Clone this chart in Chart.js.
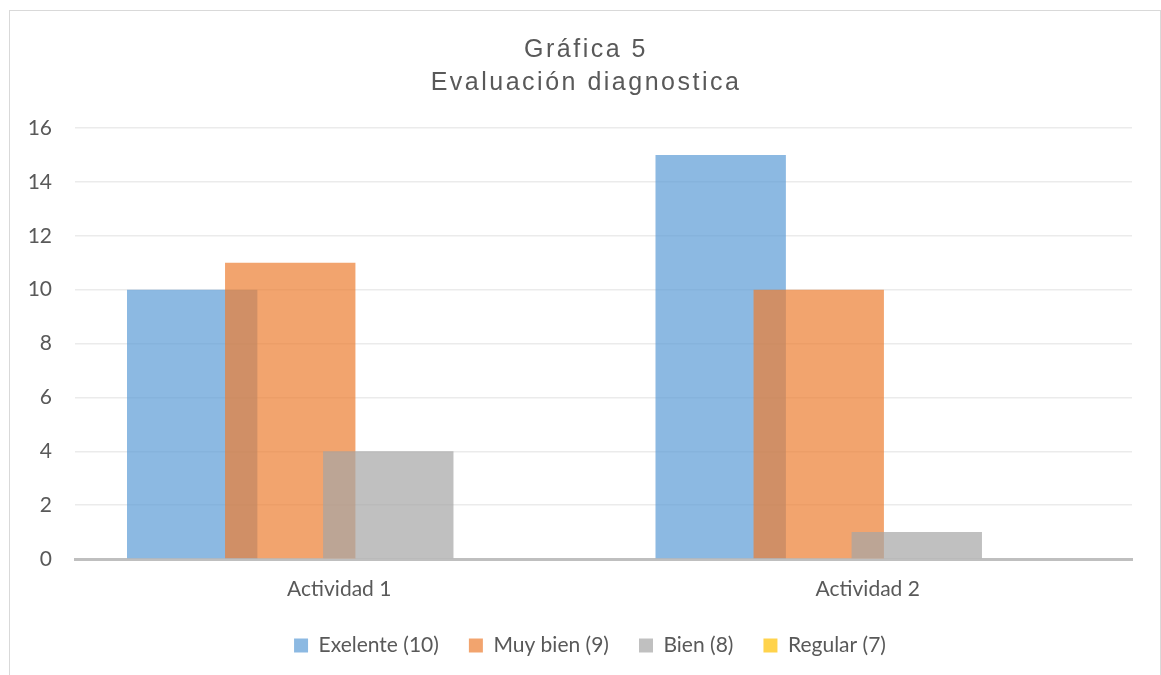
<!DOCTYPE html>
<html>
<head>
<meta charset="utf-8">
<script src="https://cdn.jsdelivr.net/npm/chart.js@4"></script>
<style>
  html, body { margin: 0; padding: 0; background: #fff; }
  #frame { position: absolute; left: 9px; top: 10px; width: 1150px; height: 700px; border: 1px solid #d9d9d9; }
  #wrap { position: absolute; left: 0; top: 0; width: 1161px; height: 675px; }
</style>
</head>
<body>
<div id="frame"></div>
<div id="wrap"><canvas id="evalChart"></canvas></div>
<script>
const titleLines = ['Gráfica 5', 'Evaluación diagnostica'];
const activities = ['Actividad 1', 'Actividad 2'];
const exelente = [10, 15];
const muyBien = [11, 10];
const bien = [4, 1];
const regular = [0, 0];

const fontFamily = 'Lato, "Liberation Sans", sans-serif';
const textColor = '#595959';

// draw datasets in index order so later series sit on top (like Excel)
const drawInOrder = {
    id: 'drawInOrder',
    beforeDatasetsDraw(chart) {
        chart.data.datasets.forEach((ds, i) => {
            const meta = chart.getDatasetMeta(i);
            if (!meta.hidden) meta.controller.draw();
        });
        return false;
    }
};

// centre the legend under the plot area rather than the whole canvas
const legendUnderPlot = {
    id: 'legendUnderPlot',
    afterLayout(chart) {
        const lg = chart.legend;
        lg.left = 48;
        lg.right = chart.chartArea.right;
        lg.width = lg.right - lg.left;
    }
};

const spacedTitle = {
    id: 'spacedTitle',
    afterDraw(chart) {
        const ctx = chart.ctx;
        ctx.save();
        ctx.font = '25px "Liberation Sans", Arial, sans-serif';
        ctx.fillStyle = textColor;
        ctx.textAlign = 'center';
        ctx.textBaseline = 'alphabetic';
        ctx.letterSpacing = '2.5px';
        titleLines.forEach((t, i) => ctx.fillText(t, 586, 57 + i * 33));
        ctx.restore();
    }
};

const ctx = document.getElementById('evalChart').getContext('2d');
const evalChart = new Chart(ctx, {
    type: 'bar',
    data: {
        labels: activities,
        datasets: [
            { label: 'Exelente (10)', data: exelente, backgroundColor: 'rgba(91,155,213,0.7)' },
            { label: 'Muy bien (9)', data: muyBien, backgroundColor: 'rgba(237,125,49,0.7)' },
            { label: 'Bien (8)', data: bien, backgroundColor: 'rgba(165,165,165,0.7)' },
            { label: 'Regular (7)', data: regular, backgroundColor: 'rgba(255,192,0,0.7)' }
        ]
    },
    options: {
        responsive: true,
        maintainAspectRatio: false,
        animation: false,
        categoryPercentage: 0.742,
        barPercentage: 1.33,
        layout: { padding: { top: 128, left: 0, right: 29, bottom: 9 } },
        plugins: {
            title: { display: false },
            tooltip: { enabled: false },
            legend: {
                position: 'bottom',
                labels: {
                    boxWidth: 14,
                    boxHeight: 14,
                    padding: 30,
                    color: textColor,
                    font: { family: fontFamily, size: 21 }
                }
            }
        },
        scales: {
            x: {
                grid: { display: false, drawTicks: false },
                border: { color: '#bfbfbf', width: 3 },
                ticks: { color: textColor, padding: 18, font: { family: fontFamily, size: 21 } },
                afterFit(scale) { scale.height = 46; }
            },
            y: {
                min: 0,
                max: 16,
                ticks: { stepSize: 2, color: textColor, padding: 23, font: { family: fontFamily, size: 21 } },
                grid: {
                    drawTicks: false,
                    color: c => c.tick.value === 0 ? 'rgba(0,0,0,0)' : '#ebebeb',
                    lineWidth: 1.5
                },
                border: { display: false },
                afterFit(scale) { scale.width = 75; }
            }
        }
    },
    plugins: [drawInOrder, legendUnderPlot, spacedTitle]
});
</script>
</body>
</html>
